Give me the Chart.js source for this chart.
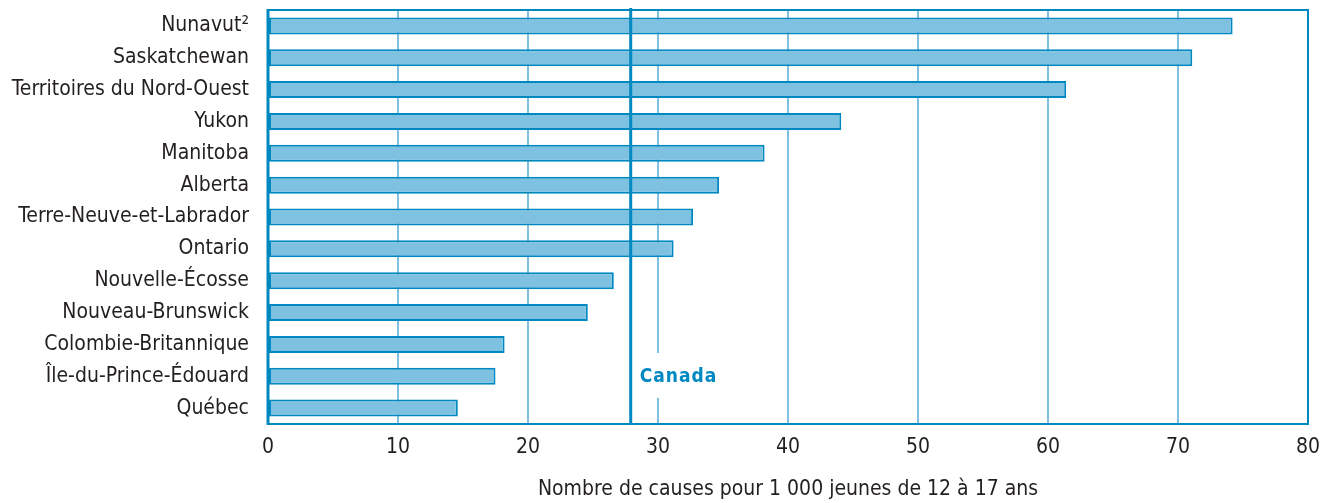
<!DOCTYPE html>
<html>
<head>
<meta charset="utf-8">
<script src="https://cdn.jsdelivr.net/npm/chart.js@4/dist/chart.umd.min.js"></script>
<style>
  html, body { margin: 0; padding: 0; background: #ffffff; }
  #wrap { width: 1334px; height: 503px; position: relative; }
</style>
</head>
<body>
<div id="wrap"><canvas id="c" width="1334" height="503"></canvas></div>
<script>
// ---- Data ----
const categories = [
  'Nunavut²', 'Saskatchewan', 'Territoires du Nord-Ouest', 'Yukon', 'Manitoba',
  'Alberta', 'Terre-Neuve-et-Labrador', 'Ontario', 'Nouvelle-Écosse',
  'Nouveau-Brunswick', 'Colombie-Britannique', 'Île-du-Prince-Édouard', 'Québec'
];
const casesPer1000 = [74.2, 71.1, 61.4, 44.1, 38.2, 34.7, 32.7, 31.2, 26.6, 24.6, 18.2, 17.5, 14.6];
const canadaAverage = 27.9;
const canadaLabel = 'Canada';
const xTicks = [0, 10, 20, 30, 40, 50, 60, 70, 80];
const xTitle = 'Nombre de causes pour 1 000 jeunes de 12 à 17 ans';

// ---- Styles ----
const FONT = "'DejaVu Sans Condensed', 'Liberation Sans Narrow', sans-serif";
const DARK_BLUE = 'rgb(0,136,192)';
const LIGHT_BLUE = 'rgb(126,193,224)';
const TEXT = '#231f20';

const framePlugin = {
  id: 'frame',
  beforeDatasetsDraw(chart) {
    const {ctx, chartArea: a, scales} = chart;
    const x = scales.x;
    const cx = x.getPixelForValue(canadaAverage);
    ctx.save();
    ctx.fillStyle = '#ffffff';
    ctx.fillRect(cx + 3, a.bottom - 71, 90, 45);
    ctx.restore();
  },
  afterDatasetsDraw(chart) {
    const {ctx, chartArea: a, scales} = chart;
    const x = scales.x;
    ctx.save();
    ctx.strokeStyle = DARK_BLUE;
    ctx.lineWidth = 2;
    ctx.beginPath();
    ctx.moveTo(a.left, a.top); ctx.lineTo(a.right, a.top);
    ctx.lineTo(a.right, a.bottom); ctx.lineTo(a.left, a.bottom);
    ctx.stroke();
    ctx.lineWidth = 3;
    ctx.beginPath();
    ctx.moveTo(a.left, a.top - 1); ctx.lineTo(a.left, a.bottom + 1);
    ctx.stroke();
    const cx = x.getPixelForValue(canadaAverage);
    ctx.lineWidth = 3;
    ctx.beginPath();
    ctx.moveTo(cx, a.top - 2); ctx.lineTo(cx, a.bottom + 1);
    ctx.stroke();
    ctx.fillStyle = DARK_BLUE;
    ctx.font = "bold 19px " + FONT;
    try { ctx.letterSpacing = '1px'; } catch (e) {}
    ctx.textAlign = 'left';
    ctx.textBaseline = 'middle';
    ctx.fillText(canadaLabel, cx + 9, a.bottom - 47);
    ctx.restore();
  }
};

new Chart(document.getElementById('c'), {
  type: 'bar',
  data: {
    labels: categories,
    datasets: [{
      data: casesPer1000,
      backgroundColor: LIGHT_BLUE,
      borderColor: DARK_BLUE,
      borderWidth: 2,
      borderSkipped: false,
      categoryPercentage: 1.0,
      barPercentage: 0.534
    }]
  },
  options: {
    indexAxis: 'y',
    responsive: false,
    animation: false,
    events: [],
    layout: { padding: { top: 10, right: 26, left: 0, bottom: 0 } },
    plugins: { legend: { display: false }, tooltip: { enabled: false } },
    scales: {
      x: {
        min: 0, max: 80,
        afterBuildTicks(scale) { scale.ticks = xTicks.map(v => ({ value: v })); },
        afterFit(scale) { scale.height = 79; scale.paddingTop = 0; scale.paddingBottom = 0; },
        grid: { color: LIGHT_BLUE, lineWidth: 2, drawTicks: false },
        border: { display: false },
        ticks: { color: TEXT, font: { family: FONT, size: 21 }, padding: 11, maxRotation: 0 },
        title: { display: true, text: xTitle, color: TEXT, font: { family: FONT, size: 21 }, padding: { top: 0, bottom: 1 } }
      },
      y: {
        afterFit(scale) { scale.width = 268; scale.paddingTop = 0; scale.paddingBottom = 0; },
        grid: { display: false, drawTicks: false },
        border: { display: false },
        ticks: { color: TEXT, font: { family: FONT, size: 21 }, padding: 19, autoSkip: false }
      }
    }
  },
  plugins: [framePlugin]
});
</script>
</body>
</html>
